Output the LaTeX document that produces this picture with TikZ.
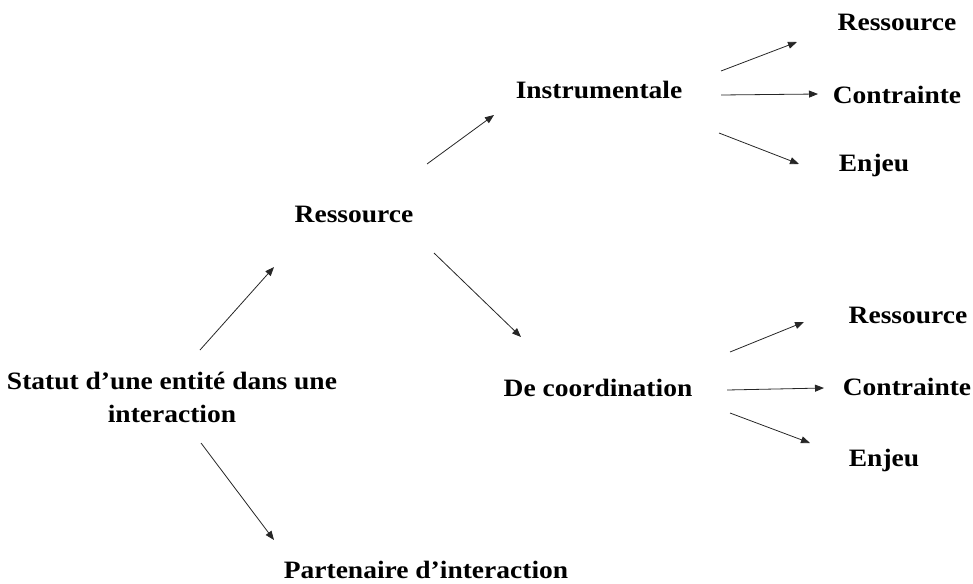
\documentclass[tikz,border=0pt]{standalone}
\usepackage{fontspec}
\setmainfont{Liberation Serif}[FakeStretch=1.1]
\usetikzlibrary{arrows.meta}
\tikzset{
  lbl/.style={inner sep=0pt, align=center, font=\fontsize{25}{33}\selectfont\bfseries, text=black},
  arr/.style={-{Triangle[length=9pt,width=7pt]}, line width=0.8pt, draw=black!85}
}
\begin{document}
\begin{tikzpicture}[x=1pt,y=-1pt]
\useasboundingbox (0,0) rectangle (973,583);
\node[lbl] (st) at (172,397) {Statut d’une entité dans une\\interaction};
\node[lbl] (r1) at (354,214) {Ressource};
\node[lbl] (pa) at (426,570) {Partenaire d’interaction};
\node[lbl] (in) at (599,90) {Instrumentale};
\node[lbl] (dc) at (598,388) {De coordination};
\node[lbl] (ra) at (897,22) {Ressource};
\node[lbl] (ca) at (897,95) {Contrainte};
\node[lbl] (ea) at (874,165) {Enjeu};
\node[lbl] (rb) at (908,315) {Ressource};
\node[lbl] (cb) at (907,387) {Contrainte};
\node[lbl] (eb) at (884,460) {Enjeu};
\draw[arr] ([shift={(28,-47)}]st.center) -- ([shift={(-80,53)}]r1.center);
\draw[arr] ([shift={(29,46)}]st.center) -- ([shift={(-152,-30)}]pa.center);
\draw[arr] ([shift={(73,-50)}]r1.center) -- ([shift={(-105,25)}]in.center);
\draw[arr] ([shift={(80,39)}]r1.center) -- ([shift={(-77,-51)}]dc.center);
\draw[arr] ([shift={(122,-19)}]in.center) -- ([shift={(-100,20)}]ra.center);
\draw[arr] ([shift={(122,5)}]in.center) -- ([shift={(-79,-1)}]ca.center);
\draw[arr] ([shift={(120,43)}]in.center) -- ([shift={(-75,-1)}]ea.center);
\draw[arr] ([shift={(132,-36)}]dc.center) -- ([shift={(-104,7)}]rb.center);
\draw[arr] ([shift={(129,2)}]dc.center) -- ([shift={(-83,1)}]cb.center);
\draw[arr] ([shift={(132,25)}]dc.center) -- ([shift={(-74,-17)}]eb.center);
\end{tikzpicture}
\end{document}
